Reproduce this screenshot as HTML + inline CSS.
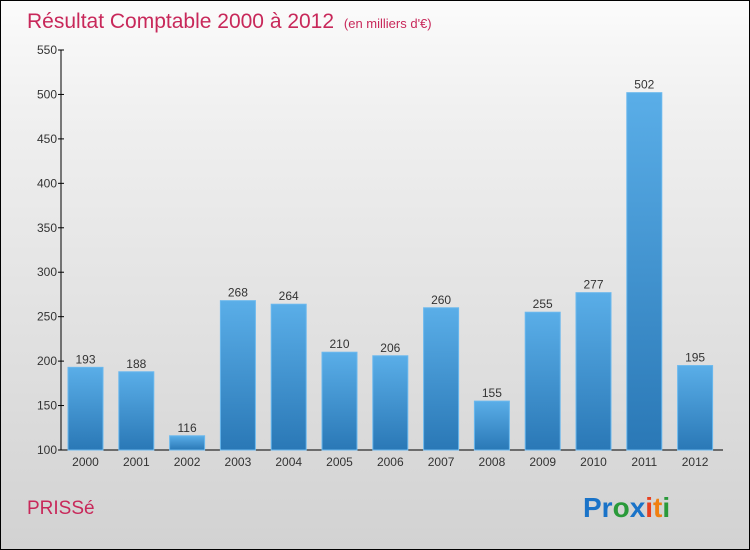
<!DOCTYPE html>
<html><head><meta charset="utf-8"><style>
body{margin:0}
#c{position:relative;width:748px;height:548px;border:1px solid #000;background:linear-gradient(#fbfbfb,#f0f0f0 20%,#d2d2d2);font-family:"Liberation Sans",sans-serif;overflow:hidden}
svg{position:absolute;left:0;top:0}
</style></head><body>
<div id="c">
<svg width="748" height="548" id="s">
<defs><linearGradient id="g" x1="0" y1="0" x2="0" y2="1"><stop offset="0" stop-color="#5aaee8"/><stop offset="1" stop-color="#2a78b6"/></linearGradient></defs>
<text x="26" y="27" font-size="21" fill="#c8285a">Résultat Comptable 2000 à 2012 <tspan font-size="13" dx="4">(en milliers d'€)</tspan></text>
<text x="26" y="513" font-size="19" fill="#c8285a">PRISSé</text>
<text x="582" y="516" font-size="28" font-weight="bold"><tspan fill="#1a73c8">Pr</tspan><tspan fill="#2a9a3a">o</tspan><tspan fill="#1a73c8">x</tspan><tspan fill="#e84020">i</tspan><tspan fill="#f08010">t</tspan><tspan fill="#2a9a3a">i</tspan></text>
</svg>
</div>
<script>
const years=["2000","2001","2002","2003","2004","2005","2006","2007","2008","2009","2010","2011","2012"];
const values=[193,188,116,268,264,210,206,260,155,255,277,502,195];
const ticks=[100,150,200,250,300,350,400,450,500,550];
const s=document.getElementById('s');const NS="http://www.w3.org/2000/svg";
const y0=449,y1=49,vmin=100,vmax=550,x0=60;
const Y=v=>y0-(v-vmin)/(vmax-vmin)*(y0-y1);
const X=i=>84.5+i*50.8;
function mk(t,a){const e=document.createElementNS(NS,t);for(const k in a)e.setAttribute(k,a[k]);s.appendChild(e);return e;}
let ax=mk('line',{x1:x0,y1:y1,x2:x0,y2:y0,stroke:'#000'});


let bx=mk('line',{x1:x0,y1:y0,x2:722,y2:y0,stroke:'#000'});


ticks.forEach(t=>{
 let l=mk('line',{x1:x0-3,x2:x0+3,y1:Y(t),y2:Y(t),stroke:'#000'});
 
 
 let tx=mk('text',{x:x0-4,y:Y(t)+4,'font-size':12,fill:'#333','text-anchor':'end'});tx.textContent=t;
 
 
});
values.forEach((v,i)=>{
 const cx=X(i);
 let r=mk('rect',{x:cx-17.5,y:Y(v),width:35,height:y0-Y(v),fill:'url(#g)',stroke:'#6ab8ee','stroke-width':1});
 
 
 let t=mk('text',{x:cx,y:Y(v)-4,'font-size':12,fill:'#333','text-anchor':'middle'});t.textContent=v;
 
 
 let xl=mk('text',{x:cx,y:y0+16,'font-size':12,fill:'#333','text-anchor':'middle'});xl.textContent=years[i];
 
 
});
</script>
</body></html>
